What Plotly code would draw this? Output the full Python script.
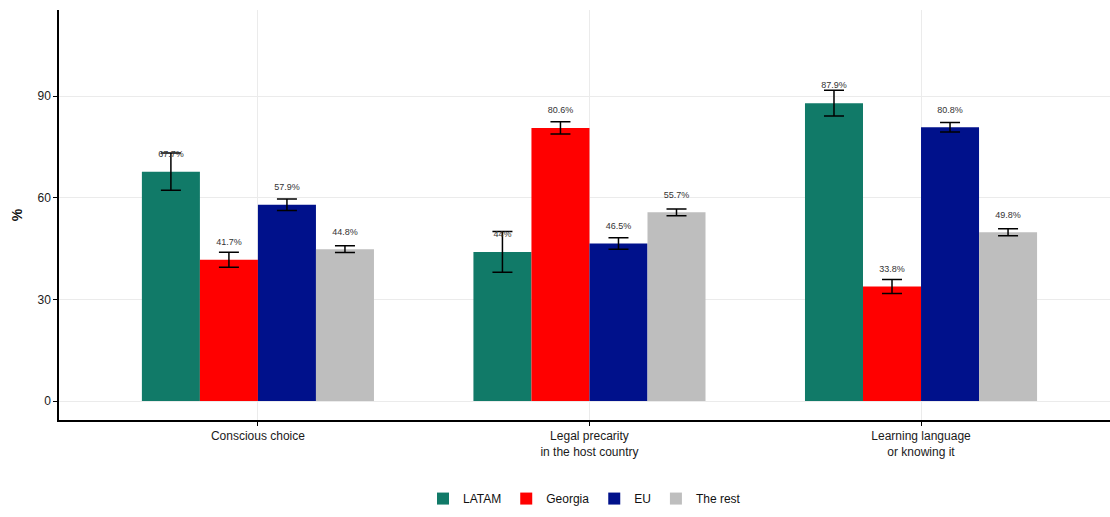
import plotly.graph_objects as go

# Reasons, grouped by origin (percent of respondents, with error margins)
categories = ["Conscious choice", "Legal precarity<br>in the host country", "Learning language<br>or knowing it"]
groups = ["LATAM", "Georgia", "EU", "The rest"]

latam = [67.7, 44.0, 87.9]
georgia = [41.7, 80.6, 33.8]
eu = [57.9, 46.5, 80.8]
rest = [44.8, 55.7, 49.8]

latam_err = [5.5, 6.0, 3.8]
georgia_err = [2.2, 1.8, 2.1]
eu_err = [1.7, 1.7, 1.4]
rest_err = [1.0, 1.0, 1.05]

label_lift = 5  # labels sit a fixed distance above each value

colors = ["#117a68", "#ff0000", "#00118b", "#bebebe"]
series = [latam, georgia, eu, rest]
errors = [latam_err, georgia_err, eu_err, rest_err]

def fmt(v):
    return f"{v:g}%"

fig = go.Figure()
for name, vals, errs, col in zip(groups, series, errors, colors):
    fig.add_trace(go.Bar(
        x=categories, y=vals, name=name, marker=dict(color=col, line=dict(width=0)),
        offsetgroup=name,
        error_y=dict(type="data", array=errs, visible=True, color="black", thickness=1.5, width=10),
    ))
for name, vals in zip(groups, series):
    fig.add_trace(go.Scatter(
        x=categories, y=[v + label_lift for v in vals], mode="text",
        text=[fmt(v) for v in vals], textposition="middle center",
        textfont=dict(size=9, color="#333333", family="Liberation Sans, Arial, sans-serif"),
        offsetgroup=name, showlegend=False, hoverinfo="skip",
    ))

fig.update_layout(
    width=1110, height=517,
    margin=dict(l=59, r=0, t=10, b=70),
    paper_bgcolor="white", plot_bgcolor="white",
    font=dict(family="Liberation Sans, Arial, sans-serif", size=12, color="#222222"),
    barmode="group", bargap=0.3, bargroupgap=0,
    scattermode="group", scattergap=0.3,
    showlegend=True,
    legend=dict(orientation="h", x=0.5, xanchor="center", y=-0.118, yanchor="middle",
                itemwidth=30, font=dict(size=12, color="#111111"), traceorder="normal"),
)
fig.update_xaxes(
    range=[-0.6, 2.57], showgrid=True, gridcolor="#ebebeb", gridwidth=1,
    showline=True, linecolor="black", linewidth=1.5,
    ticks="outside", ticklen=4, tickcolor="black", tickwidth=1,
    tickfont=dict(size=12, color="#1a1a1a"),
)
fig.update_yaxes(
    domain=[0.0618, 1],
    range=[-5.6, 115.4], tickvals=[0, 30, 60, 90], showgrid=True, gridcolor="#ebebeb", gridwidth=1,
    zeroline=False, showline=True, linecolor="black", linewidth=1.5,
    ticks="outside", ticklen=4, tickcolor="black", tickwidth=1,
    tickfont=dict(size=12, color="#1a1a1a"),
    title=dict(text="<b>%</b>", font=dict(size=14, color="#111111"), standoff=12),
)

fig.write_html("out.html")
